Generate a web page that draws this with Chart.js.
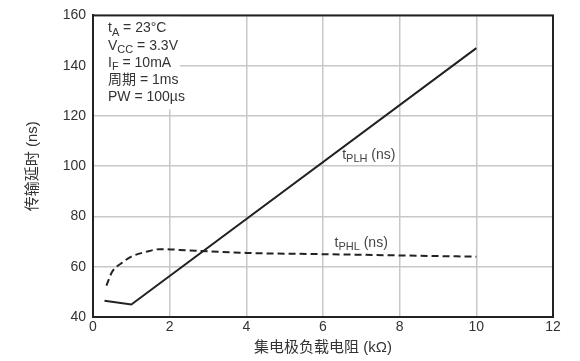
<!DOCTYPE html>
<html><head><meta charset="utf-8">
<script src="https://cdn.jsdelivr.net/npm/chart.js@4"></script>
<style>html,body{margin:0;padding:0;background:#fff}#w{width:580px;height:361px}</style>
</head><body><div id="w"><canvas id="c" width="580" height="361"></canvas></div>
<script>
const xTicks = [0, 2, 4, 6, 8, 10, 12];
const yTicks = [40, 60, 80, 100, 120, 140, 160];
const tplhX = [0.3, 1.0, 10.0];
const tplhY = [46.5, 45.0, 147.0];
const tphlX = [0.35, 0.5, 0.75, 1.0, 1.4, 1.75, 2.5, 4.0, 6.0, 8.0, 10.0];
const tphlY = [52.5, 58.0, 61.5, 64.0, 66.0, 67.0, 66.5, 65.5, 65.0, 64.5, 64.0];
const xTitle = '集电极负载电阻 (kΩ)';
const yTitle = '传输延时 (ns)';
const infoLines = [
  [['t',''],['A','sub'],[' = 23°C','']],
  [['V',''],['CC','sub'],[' = 3.3V','']],
  [['I',''],['F','sub'],[' = 10mA','']],
  [['周期 = 1ms','']],
  [['PW = 100µs','']]
];
const curveLabels = [
  {x: 6.5, y: 104.5, parts: [['t',''],['PLH','sub'],[' (ns)','']]},
  {x: 6.3, y: 69.5, parts: [['t',''],['PHL','sub'],[' (ns)','']]}
];

const FONT = '"Liberation Sans", "Noto Sans CJK SC", Arial, sans-serif';

function drawParts(ctx, parts, x, y, size, color) {
  ctx.fillStyle = color;
  ctx.textBaseline = 'middle';
  ctx.textAlign = 'left';
  let cx = x;
  for (const [t, k] of parts) {
    if (k === 'sub') {
      ctx.font = Math.round(size * 0.75) + 'px ' + FONT;
      ctx.fillText(t, cx, y + size * 0.3);
    } else {
      ctx.font = size + 'px ' + FONT;
      ctx.fillText(t, cx, y);
    }
    cx += ctx.measureText(t).width;
  }
}

const annot = {
  id: 'annot',
  beforeDatasetsDraw(chart) {
    const ctx = chart.ctx, a = chart.chartArea;
    ctx.save();
    ctx.fillStyle = '#fff';
    ctx.fillRect(a.left + 1, a.top + 1, 86, 93);
    ctx.restore();
  },
  afterDatasetsDraw(chart) {
    const ctx = chart.ctx, a = chart.chartArea;
    const xs = chart.scales.x, ys = chart.scales.y;
    ctx.save();
    infoLines.forEach((ln, i) => drawParts(ctx, ln, a.left + 15, a.top + 13 + i * 17.3, 14, '#333'));
    curveLabels.forEach(l => drawParts(ctx, l.parts, xs.getPixelForValue(l.x), ys.getPixelForValue(l.y), 14, '#444'));
    ctx.strokeStyle = '#222';
    ctx.lineWidth = 2;
    ctx.strokeRect(a.left, a.top, a.right - a.left, a.bottom - a.top);
    ctx.restore();
  }
};

new Chart(document.getElementById('c'), {
  type: 'scatter',
  data: {
    datasets: [
      {label: 'tPLH', data: tplhX.map((x, i) => ({x, y: tplhY[i]})), showLine: true,
       borderColor: '#222', borderWidth: 2, pointRadius: 0, tension: 0},
      {label: 'tPHL', data: tphlX.map((x, i) => ({x, y: tphlY[i]})), showLine: true,
       borderColor: '#222', borderWidth: 2, borderDash: [7, 4], pointRadius: 0,
       cubicInterpolationMode: 'monotone'}
    ]
  },
  options: {
    responsive: false, animation: false,
    layout: {padding: {top: 10, right: 27, left: 0, bottom: 0}},
    plugins: {legend: {display: false}, tooltip: {enabled: false}},
    scales: {
      x: {
        type: 'linear', min: 0, max: 12,
        afterBuildTicks: s => { s.ticks = xTicks.map(v => ({value: v})); },
        afterFit: s => { s.height = 44; },
        ticks: {color: '#333', font: {size: 14, family: FONT}, padding: 2},
        grid: {color: '#c8c8c8', lineWidth: 1.5, drawTicks: false},
        border: {display: true, color: '#222', width: 2},
        title: {display: true, text: xTitle, color: '#333', font: {size: 15, family: FONT}, padding: {top: 4}}
      },
      y: {
        type: 'linear', min: 40, max: 160,
        afterBuildTicks: s => { s.ticks = yTicks.map(v => ({value: v})); },
        afterFit: s => { s.width = 93; },
        ticks: {color: '#333', font: {size: 14, family: FONT}, padding: 7},
        grid: {color: '#c8c8c8', lineWidth: 1.5, drawTicks: false},
        border: {display: true, color: '#222', width: 2},
        title: {display: true, text: yTitle, color: '#333', font: {size: 15, family: FONT}, padding: {top: 24, bottom: 0}}
      }
    }
  },
  plugins: [annot]
});
</script></body></html>
